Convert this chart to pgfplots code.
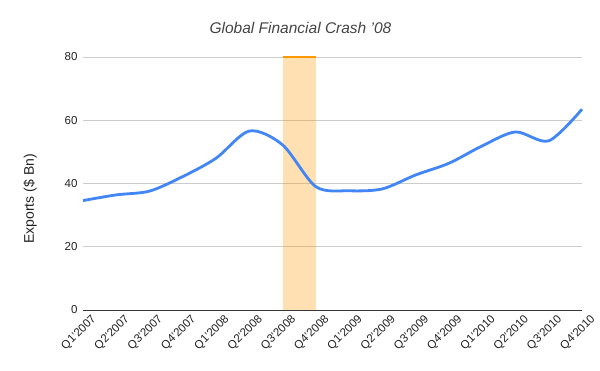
\documentclass[border=0pt]{standalone}
\usepackage{pgfplots}
\pgfplotsset{compat=1.18}
\usepackage{fontspec}
\setmainfont{Liberation Sans}
\newcommand{\ap}{\symbol{"27}}
\definecolor{lineblue}{HTML}{4285F4}
\definecolor{band}{HTML}{FF9900}
\definecolor{gridgray}{HTML}{CCCCCC}
\definecolor{txt}{HTML}{222222}
\definecolor{titlegray}{HTML}{444444}
\begin{document}
\begin{tikzpicture}[x=1pt,y=1pt]
\useasboundingbox (0,0) rectangle (600,371);
\begin{axis}[
  at={(83pt,61pt)}, anchor=south west,
  scale only axis, width=499pt, height=253pt,
  xmin=0, xmax=15, ymin=0, ymax=80,
  xtick={0,...,15},
  xticklabels={Q1\ap 2007,Q2\ap 2007,Q3\ap 2007,Q4\ap 2007,Q1\ap 2008,Q2\ap 2008,Q3\ap 2008,Q4\ap 2008,Q1\ap 2009,Q2\ap 2009,Q3\ap 2009,Q4\ap 2009,Q1\ap 2010,Q2\ap 2010,Q3\ap 2010,Q4\ap 2010},
  x tick label style={rotate=45, anchor=north east, font=\fontsize{11.5}{12}\selectfont, text=txt, inner sep=1pt, xshift=4pt, yshift=-7pt},
  ytick={0,20,40,60,80},
  y tick label style={font=\fontsize{11.5}{13}\selectfont, text=txt, xshift=-2pt},
  /pgf/number format/assume math mode=true,
  ymajorgrids, major grid style={gridgray, line width=0.8pt},
  axis x line*=bottom, axis y line*=left,
  x axis line style={-, draw=txt!90, line width=0.9pt},
  y axis line style={draw=none},
  major tick length=0pt,
  ylabel={Exports (\$ Bn)},
  every axis y label/.style={at={(axis description cs:-0.106,0.439)}, rotate=90, anchor=center, font=\fontsize{14}{16}\selectfont, text=txt},
  title={\itshape Global Financial Crash \ap 08},
  title style={font=\fontsize{15.5}{17}\selectfont, text=titlegray, at={(0.5,1)}, xshift=-32pt, yshift=14pt},
  clip=false,
]
\addplot[draw=none, fill=band, fill opacity=0.3] coordinates {(6,0) (6,80) (7,80) (7,0)} -- cycle;
\addplot[band, line width=1.2pt] coordinates {(6,80) (7,80)};
\addplot[lineblue, line width=2.8pt, smooth, tension=0.5] coordinates {
(0,34.6) (1,36.4) (2,37.6) (3,42.2) (4,48.0) (5,56.6) (6,52.2) (7,39.0)
(8,37.7) (9,38.3) (10,42.7) (11,46.4) (12,51.9) (13,56.3) (14,53.5) (15,63.5)
};
\end{axis}
\end{tikzpicture}
\end{document}
